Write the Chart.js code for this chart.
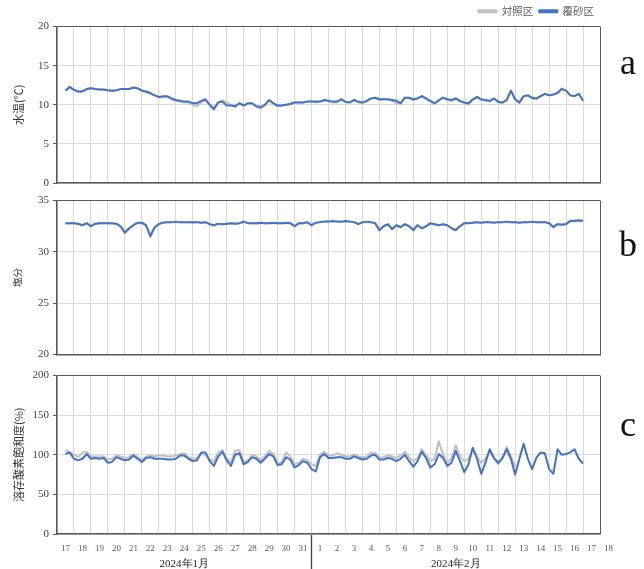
<!DOCTYPE html>
<html lang="ja">
<head>
<meta charset="utf-8">
<title>水温・塩分・溶存酸素飽和度</title>
<script src="https://cdn.jsdelivr.net/npm/chart.js@4.4.1/dist/chart.umd.min.js"></script>
<style>
  html, body { margin: 0; padding: 0; background: #fff; }
  #wrap { position: relative; width: 644px; height: 569px; overflow: hidden; }
  #wrap canvas { position: absolute; left: 0; }
  .tag { position: absolute; left: 613px; width: 30px; text-align: center;
         font: 36px/36px 'Liberation Serif', 'Times New Roman', serif; color: #111; }
</style>
</head>
<body>
<div id="wrap">
  <canvas id="chartA" width="644" height="195" style="top:0"></canvas>
  <canvas id="chartB" width="644" height="175" style="top:190px"></canvas>
  <canvas id="chartC" width="644" height="204" style="top:365px"></canvas>
  <div class="tag" style="top:44px">a</div>
  <div class="tag" style="top:226px">b</div>
  <div class="tag" style="top:406px">c</div>
</div>
<script>
'use strict';

// ── Data ──────────────────────────────────────────────────────
// x = days since 17 Jan 00:00 (one grid cell per day), one sample every 6 h
const DAY0 = 0.5;
const STEP = 0.25;

const dayLabels   = ['17','18','19','20','21','22','23','24','25','26','27','28','29','30','31',
                     '1','2','3','4','5','6','7','8','9','10','11','12','13','14','15','16','17','18'];
const monthLabels = ['2024年1月', '2024年2月'];
const monthCentres = [7.5, 23.5];
const monthSplit  = 15;
const seriesNames = ['対照区', '覆砂区'];

// a: 水温 (℃)
const tempCtrl = [
  11.9, 12.2, 11.9, 11.7, 11.7, 12.0, 12.1, 12.0, 11.95, 11.95,
  11.85, 11.8, 11.85, 12.0, 12.0, 12.0, 12.2, 12.1, 11.8, 11.6,
  11.4, 11.2, 10.9, 11.0, 11.0, 10.7, 10.5, 10.4, 10.3, 10.3,
  10.0, 9.8, 10.3, 10.6, 9.9, 9.3, 10.3, 10.6, 10.3, 10.0,
  9.7, 10.2, 9.9, 10.1, 10.2, 9.7, 9.5, 9.9, 10.6, 10.1,
  9.8, 9.9, 10.0, 10.1, 10.3, 10.3, 10.3, 10.4, 10.4, 10.3,
  10.4, 10.6, 10.4, 10.3, 10.3, 10.7, 10.3, 10.3, 10.6, 10.3,
  10.2, 10.4, 10.8, 10.9, 10.6, 10.7, 10.7, 10.5, 10.2, 10.1,
  10.9, 10.8, 10.6, 10.8, 11.1, 10.7, 10.4, 10.1, 10.5, 10.9,
  10.6, 10.5, 10.8, 10.4, 10.2, 10.0, 10.6, 10.9, 10.6, 10.5,
  10.4, 10.8, 10.3, 10.2, 10.6, 11.8, 10.6, 10.2, 11.1, 11.2,
  10.8, 10.7, 11.1, 11.4, 11.2, 11.3, 11.6, 12.1, 11.8, 11.2,
  11.1, 11.4, 10.5
];
const tempSand = [
  11.8, 12.3, 11.9, 11.7, 11.7, 12.0, 12.1, 12.0, 11.95, 11.95,
  11.85, 11.8, 11.85, 12.0, 12.0, 12.0, 12.2, 12.1, 11.8, 11.7,
  11.5, 11.2, 11.0, 11.1, 11.1, 10.8, 10.6, 10.5, 10.4, 10.4,
  10.2, 10.2, 10.5, 10.7, 10.0, 9.5, 10.3, 10.4, 9.9, 9.9,
  9.8, 10.2, 9.9, 10.2, 10.2, 9.8, 9.7, 10.0, 10.6, 10.2,
  9.9, 9.9, 10.0, 10.1, 10.3, 10.3, 10.3, 10.4, 10.4, 10.4,
  10.4, 10.6, 10.5, 10.4, 10.4, 10.7, 10.4, 10.3, 10.6, 10.4,
  10.3, 10.5, 10.8, 10.9, 10.7, 10.7, 10.7, 10.6, 10.5, 10.2,
  10.9, 10.9, 10.7, 10.8, 11.1, 10.8, 10.5, 10.2, 10.6, 10.9,
  10.7, 10.6, 10.8, 10.5, 10.3, 10.2, 10.7, 11.0, 10.7, 10.6,
  10.5, 10.8, 10.4, 10.3, 10.6, 11.8, 10.7, 10.3, 11.1, 11.2,
  10.9, 10.8, 11.1, 11.4, 11.2, 11.3, 11.5, 12.0, 11.8, 11.2,
  11.1, 11.4, 10.5
];

// b: 塩分
const salCtrl = [
  32.75, 32.8, 32.8, 32.7, 32.6, 32.75, 32.5, 32.7, 32.8, 32.8,
  32.8, 32.75, 32.7, 32.4, 31.8, 32.2, 32.6, 32.8, 32.8, 32.5,
  31.7, 32.3, 32.7, 32.85, 32.9, 32.9, 32.9, 32.9, 32.9, 32.9,
  32.85, 32.9, 32.85, 32.85, 32.7, 32.55, 32.7, 32.7, 32.7, 32.8,
  32.75, 32.8, 32.9, 32.8, 32.8, 32.75, 32.8, 32.8, 32.8, 32.8,
  32.8, 32.8, 32.8, 32.8, 32.5, 32.75, 32.8, 32.85, 32.6, 32.8,
  32.9, 32.95, 32.95, 32.95, 32.95, 32.9, 32.95, 32.95, 32.9, 32.7,
  32.85, 32.9, 32.9, 32.8, 32.2, 32.5, 32.7, 32.3, 32.6, 32.4,
  32.7, 32.5, 32.2, 32.6, 32.3, 32.5, 32.75, 32.7, 32.6, 32.7,
  32.6, 32.3, 32.2, 32.5, 32.8, 32.8, 32.85, 32.85, 32.85, 32.9,
  32.9, 32.85, 32.9, 32.9, 32.9, 32.9, 32.9, 32.85, 32.9, 32.9,
  32.9, 32.9, 32.9, 32.9, 32.8, 32.5, 32.7, 32.7, 32.75, 33.05,
  33.05, 33.1, 33.05
];
const salSand = [
  32.8, 32.8, 32.8, 32.75, 32.6, 32.8, 32.5, 32.75, 32.8, 32.8,
  32.8, 32.8, 32.75, 32.5, 31.9, 32.3, 32.6, 32.85, 32.85, 32.6,
  31.5, 32.4, 32.7, 32.85, 32.9, 32.9, 32.95, 32.9, 32.9, 32.9,
  32.9, 32.9, 32.85, 32.9, 32.7, 32.6, 32.75, 32.7, 32.75, 32.8,
  32.75, 32.8, 32.95, 32.8, 32.8, 32.8, 32.85, 32.8, 32.8, 32.85,
  32.8, 32.8, 32.85, 32.8, 32.5, 32.8, 32.8, 32.9, 32.6, 32.85,
  32.9, 32.95, 32.95, 33.0, 32.95, 32.95, 33.0, 32.95, 32.9, 32.7,
  32.9, 32.95, 32.9, 32.8, 32.1, 32.5, 32.7, 32.2, 32.6, 32.4,
  32.7, 32.5, 32.1, 32.6, 32.3, 32.5, 32.8, 32.7, 32.6, 32.7,
  32.6, 32.3, 32.1, 32.5, 32.8, 32.8, 32.85, 32.9, 32.85, 32.9,
  32.9, 32.85, 32.9, 32.9, 32.95, 32.9, 32.9, 32.85, 32.9, 32.9,
  32.95, 32.9, 32.9, 32.9, 32.8, 32.4, 32.7, 32.65, 32.7, 33.0,
  33.0, 33.05, 33.0
];

// c: 溶存酸素飽和度 (%) — control record stops on 13 Feb
const doCtrl = [
  106, 103, 100, 97, 103, 104, 98, 98, 98, 98,
  94, 95, 99, 98, 96, 97, 101, 97, 93, 98,
  99, 98, 99, 99, 98, 98, 99, 101, 102, 97,
  95, 96, 101, 100, 94, 92, 103, 106, 95, 91,
  105, 106, 91, 93, 100, 98, 93, 98, 105, 101,
  89, 91, 103, 98, 88, 90, 95, 93, 88, 86,
  100, 104, 99, 99, 102, 100, 98, 98, 100, 98,
  97, 98, 103, 102, 97, 97, 99, 98, 96, 99,
  104, 97, 92, 96, 107, 100, 92, 95, 117, 100,
  90, 96, 112, 98, 92, 95, 107, 98, 90, 95,
  105, 96, 88, 95, 110, 98, 85
];
const doSand = [
  101, 103, 95, 93, 95, 101, 95, 96, 95, 96,
  90, 91, 97, 95, 93, 94, 99, 95, 91, 96,
  97, 95, 95, 95, 94, 94, 95, 99, 99, 95,
  92, 93, 103, 103, 92, 86, 98, 104, 93, 86,
  100, 102, 88, 91, 97, 95, 90, 95, 101, 98,
  87, 88, 97, 94, 84, 87, 92, 90, 82, 79,
  97, 101, 96, 96, 97, 97, 95, 95, 98, 96,
  94, 95, 99, 100, 94, 94, 96, 95, 92, 95,
  100, 92, 85, 92, 104, 96, 84, 88, 101, 96,
  86, 90, 105, 92, 78, 88, 109, 95, 76, 90,
  107, 96, 90, 96, 107, 95, 75, 95, 114, 95,
  82, 96, 103, 102, 82, 76, 107, 100, 101, 103,
  107, 95, 89
];

// ── Styling ───────────────────────────────────────────────────
const COLORS = { ctrl: '#c0c0c0', sand: '#4472c4', axis: '#595959', grid: '#d9d9d9', text: '#404040' };
const SERIF  = "'Liberation Serif', 'Times New Roman', serif";
const SANS   = "'Noto Sans CJK JP', 'Noto Sans', sans-serif";

const toPoints   = vals => vals.map((v, i) => ({ x: DAY0 + i * STEP, y: v }));
const frameColor = max => c => (c.tick && c.tick.value === max ? COLORS.axis : COLORS.grid);

// ── Panel builder ─────────────────────────────────────────────
function makePanel(id, cfg) {
  const scales = {
    x: {
      type: 'linear',
      min: 0,
      max: 32,
      border: { color: COLORS.axis, width: 1.5 },
      grid: {
        color: frameColor(32),
        drawTicks: cfg.dates,
        tickLength: 36,
        tickWidth: 1.3,
        tickColor: c => (c.tick && c.tick.value === monthSplit ? '#404040' : 'rgba(0,0,0,0)'),
      },
      ticks: {
        display: cfg.dates,
        stepSize: 1,
        autoSkip: false,
        maxRotation: 0,
        labelOffset: 8.5,
        padding: -27,
        color: COLORS.axis,
        font: { family: SERIF, size: 9 },
        callback: v => dayLabels[v],
      },
      afterFit: s => { s.height = cfg.xHeight; },
    },
    y: {
      min: cfg.yMin,
      max: cfg.yMax,
      border: { color: COLORS.axis, width: 1.5 },
      grid: { color: frameColor(cfg.yMax), tickLength: 4, tickColor: COLORS.axis },
      ticks: {
        stepSize: cfg.yStep,
        padding: 4,
        color: COLORS.text,
        font: { family: SERIF, size: 11 },
      },
      title: {
        display: true,
        text: cfg.yTitle,
        color: '#333',
        font: { family: SANS, size: cfg.titleSize },
        padding: { top: 12, bottom: 0 },
      },
      afterFit: s => { s.width = 57; },
    },
  };

  if (cfg.dates) {
    scales.xm = {
      type: 'linear',
      position: 'bottom',
      weight: 1,
      min: 0,
      max: 32,
      grid: { display: false },
      border: { display: false },
      afterBuildTicks: s => { s.ticks = monthCentres.map(v => ({ value: v })); },
      ticks: {
        autoSkip: false,
        maxRotation: 0,
        padding: -5,
        color: '#262626',
        font: { family: SERIF, size: 11 },
        callback: (v, i) => monthLabels[i],
      },
      afterFit: s => { s.height = 14; },
    };
  }

  return new Chart(document.getElementById(id), {
    type: 'line',
    data: {
      datasets: [
        {
          label: seriesNames[0],
          data: toPoints(cfg.ctrl),
          borderColor: COLORS.ctrl,
          backgroundColor: COLORS.ctrl,
          borderWidth: 2,
          order: 2,
        },
        {
          label: seriesNames[1],
          data: toPoints(cfg.sand),
          borderColor: COLORS.sand,
          backgroundColor: COLORS.sand,
          borderWidth: 2,
          order: 1,
        },
      ],
    },
    options: {
      responsive: false,
      animation: false,
      events: [],
      elements: { point: { radius: 0 }, line: { tension: 0, borderJoinStyle: 'round' } },
      layout: { padding: { top: cfg.padTop, right: 44, left: 0, bottom: 0 } },
      plugins: {
        tooltip: { enabled: false },
        legend: {
          display: cfg.legend,
          position: 'top',
          align: 'end',
          reverse: true,
          labels: {
            boxWidth: 18,
            boxHeight: 2,
            padding: 6,
            color: COLORS.axis,
            font: { family: SANS, size: 10.5 },
          },
        },
      },
      scales,
    },
  });
}

// ── Build the three panels ────────────────────────────────────
makePanel('chartA', {
  ctrl: tempCtrl, sand: tempSand,
  yMin: 0, yMax: 20, yStep: 5, yTitle: '水温(℃)', titleSize: 11,
  legend: true, dates: false, padTop: 0, xHeight: 12,
});

makePanel('chartB', {
  ctrl: salCtrl, sand: salSand,
  yMin: 20, yMax: 35, yStep: 5, yTitle: '塩分', titleSize: 9.5,
  legend: false, dates: false, padTop: 9, xHeight: 8,
});

makePanel('chartC', {
  ctrl: doCtrl, sand: doSand,
  yMin: 0, yMax: 200, yStep: 50, yTitle: '溶存酸素飽和度(%)', titleSize: 11,
  legend: false, dates: true, padTop: 10, xHeight: 21,
});
</script>
</body>
</html>
